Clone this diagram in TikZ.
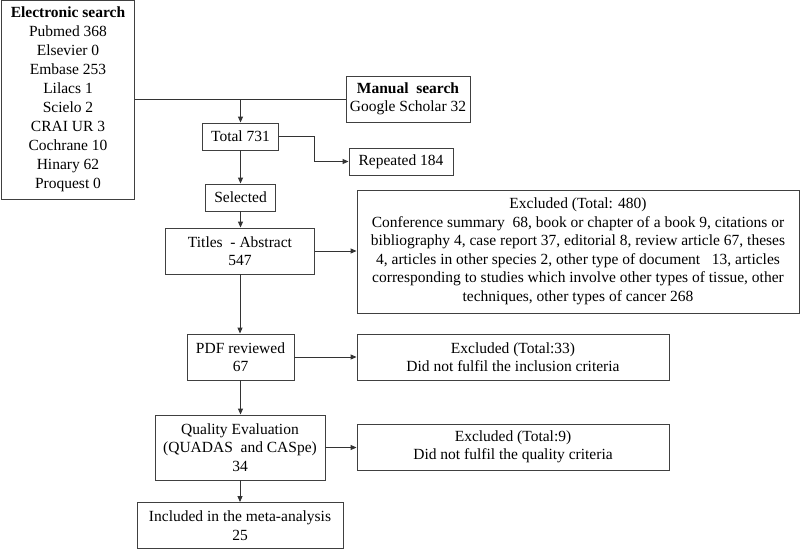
\documentclass[tikz,border=0pt]{standalone}
\usepackage{fontspec}
\setmainfont{Liberation Serif}
\usetikzlibrary{arrows.meta,calc}
\begin{document}
\begin{tikzpicture}[x=1pt,y=-1pt,
  box/.style={draw=black!75,line width=0.9pt,align=center,inner sep=0pt,
    font=\fontsize{15.5}{18.5}\selectfont},
  conn/.style={draw=black!80,line width=0.9pt},
  arr/.style={conn,-{Triangle[length=6pt,width=5pt]}}]
\useasboundingbox[fill=white] (0,0) rectangle (800,549);
\node[box,minimum width=133,minimum height=199,font=\fontsize{15.5}{19}\selectfont] (es) at (68,99.5)
  {\textbf{Electronic search}\\Pubmed 368\\Elsevier 0\\Embase 253\\Lilacs 1\\Scielo 2\\CRAI UR 3\\Cochrane 10\\Hinary 62\\Proquest 0};
\node[box,minimum width=124,minimum height=46] (ms) at (408,99)
  {\textbf{Manual\ \ search}\\Google Scholar 32};
\node[box,minimum width=76,minimum height=27] (tot) at (240.5,136.5) {Total 731};
\node[box,minimum width=104,minimum height=27] (rep) at (401,161.5) {Repeated 184};
\node[box,minimum width=70,minimum height=27] (sel) at (240.5,197.5) {Selected};
\node[box,minimum width=149,minimum height=46] (tit) at (240,251) {Titles\ \ - Abstract\\547};
\node[box,minimum width=442,minimum height=123] (ex1) at (578,251.5)
  {Excluded (Total: 480)\\
   Conference summary\ \ 68, book or chapter of a book 9, citations or\\
   bibliography 4, case report 37, editorial 8, review article 67, theses\\
   4, articles in other species 2, other type of document\ \ \ 13, articles\\
   corresponding to studies which involve other types of tissue, other\\
   techniques, other types of cancer 268};
\node[box,minimum width=107,minimum height=46] (pdf) at (240.5,357) {PDF reviewed\\67};
\node[box,minimum width=312,minimum height=46] (ex2) at (513,357)
  {Excluded (Total:33)\\Did not fulfil the\ inclusion criteria};
\node[box,minimum width=170,minimum height=65] (qe) at (240,447.5)
  {Quality Evaluation\\(QUADAS\ \ and CASpe)\\34};
\node[box,minimum width=312,minimum height=46] (ex3) at (513,447)
  {Excluded (Total:9)\\Did not fulfil the\ quality criteria};
\node[box,minimum width=206,minimum height=46] (inc) at (240,525.5)
  {Included in the meta-analysis\\25};
\coordinate (j) at (240.5,99);
\draw[conn] (es.east |- j) -- (ms.west |- j);
\draw[arr] (j) -- (tot.north);
\draw[arr] (tot.east) -- (314,136.5) |- (rep.west);
\draw[arr] (tot.south) -- (sel.north -| tot.south);
\draw[arr] (sel.south) -- (tit.north -| sel.south);
\draw[arr] (tit.east) -- (tit.east -| ex1.west);
\draw[arr] (tit.south) -- (pdf.north -| tit.south);
\draw[arr] (pdf.east) -- (pdf.east -| ex2.west);
\draw[arr] (pdf.south) -- (qe.north -| pdf.south);
\draw[arr] (qe.east) -- (qe.east -| ex3.west);
\draw[arr] (qe.south) -- (inc.north -| qe.south);
\end{tikzpicture}
\end{document}
